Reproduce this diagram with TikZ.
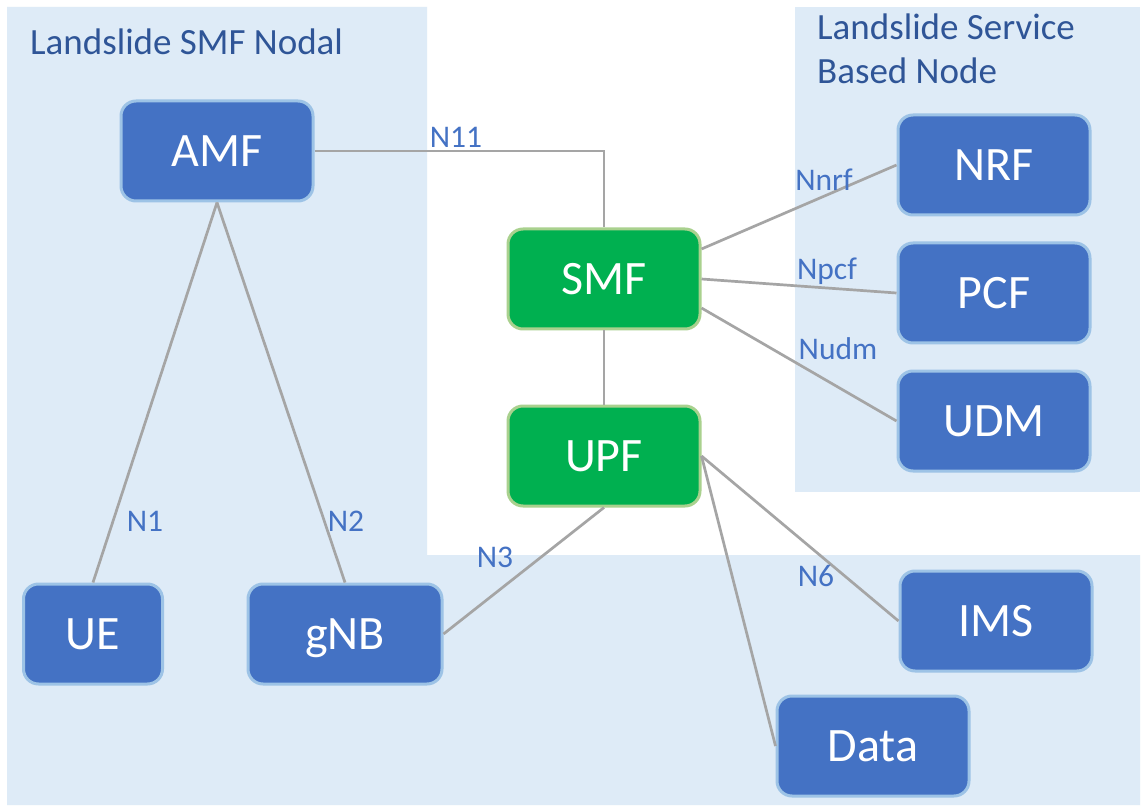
\documentclass[tikz,border=0pt]{standalone}
\usepackage{fontspec}
\setmainfont{Carlito}
\usetikzlibrary{calc}
\definecolor{bgblue}{HTML}{DEEBF7}
\definecolor{nodeblue}{HTML}{4472C4}
\definecolor{nodeborder}{HTML}{9DC3E6}
\definecolor{nodegreen}{HTML}{00B050}
\definecolor{greenborder}{HTML}{A9D18E}
\definecolor{linegray}{HTML}{A5A5A5}
\definecolor{titleblue}{HTML}{2F5597}
\definecolor{labelblue}{HTML}{4472C4}
\tikzset{
  nf/.style={rounded corners=15pt, minimum width=192pt, minimum height=100pt,
    line width=3pt, draw=nodeborder, fill=nodeblue, text=white,
    font=\fontsize{48}{52}\selectfont, text height=31pt, text depth=0pt, inner sep=0pt},
  gf/.style={nf, draw=greenborder, fill=nodegreen},
  conn/.style={draw=linegray, line width=2.7pt},
  lbl/.style={text=labelblue, font=\fontsize{31.5}{34}\selectfont, inner sep=0pt},
  ttl/.style={text=titleblue, font=\fontsize{37}{44}\selectfont, inner sep=0pt, align=left, anchor=west}
}
\begin{document}
\begin{tikzpicture}[x=1pt,y=-1pt]
\useasboundingbox (0,0) rectangle (1146,810);
\fill[white] (0,0) rectangle (1146,810);
% backgrounds
\fill[bgblue] (7,7) -- (427,7) -- (427,555) -- (1140,555) -- (1140,805) -- (7,805) -- cycle;
\fill[bgblue] (795,7) rectangle (1140,492);
% titles
\node[ttl] (t1) at (30,42) {Landslide SMF Nodal};
\node[ttl] (t2a) at (817,27) {Landslide Service};
\node[ttl] (t2b) at (817,71) {Based Node};
% nodes
\node[nf] (AMF) at (217,151) {AMF};
\node[gf] (SMF) at (604,279) {SMF};
\node[gf] (UPF) at (604,456) {UPF};
\node[nf] (NRF) at (994,165) {NRF};
\node[nf] (PCF) at (994,293) {PCF};
\node[nf] (UDM) at (994,421) {UDM};
\node[nf] (IMS) at (996,621) {IMS};
\node[nf] (Data) at (873,746) {Data};
\node[nf, minimum width=139pt] (UE) at (93,634) {UE};
\node[nf, minimum width=194pt] (gNB) at (345,634) {gNB};
% connectors
\draw[conn] (AMF.east) -- (SMF.north |- AMF.east) -- (SMF.north);
\draw[conn] (AMF.south) -- (UE.north);
\draw[conn] (AMF.south) -- (gNB.north);
\draw[conn] (SMF.south) -- (UPF.north);
\draw[conn] ($(SMF.east)+(0,-30)$) -- (NRF.west);
\draw[conn] (SMF.east) -- (PCF.west);
\draw[conn] ($(SMF.east)+(0,29)$) -- (UDM.west);
\draw[conn] (UPF.south) -- (gNB.east);
\draw[conn] (UPF.east) -- (IMS.west);
\draw[conn] (UPF.east) -- (Data.west);
% labels
\node[lbl] (l11) at (456,137) {N11};
\node[lbl] (lnrf) at (824,180) {Nnrf};
\node[lbl] (lpcf) at (827,271) {Npcf};
\node[lbl] (ludm) at (838,349) {Nudm};
\node[lbl] (l1) at (145,521) {N1};
\node[lbl] (l2) at (346,521) {N2};
\node[lbl] (l3) at (495,557) {N3};
\node[lbl] (l6) at (816,576) {N6};
\end{tikzpicture}
\end{document}
